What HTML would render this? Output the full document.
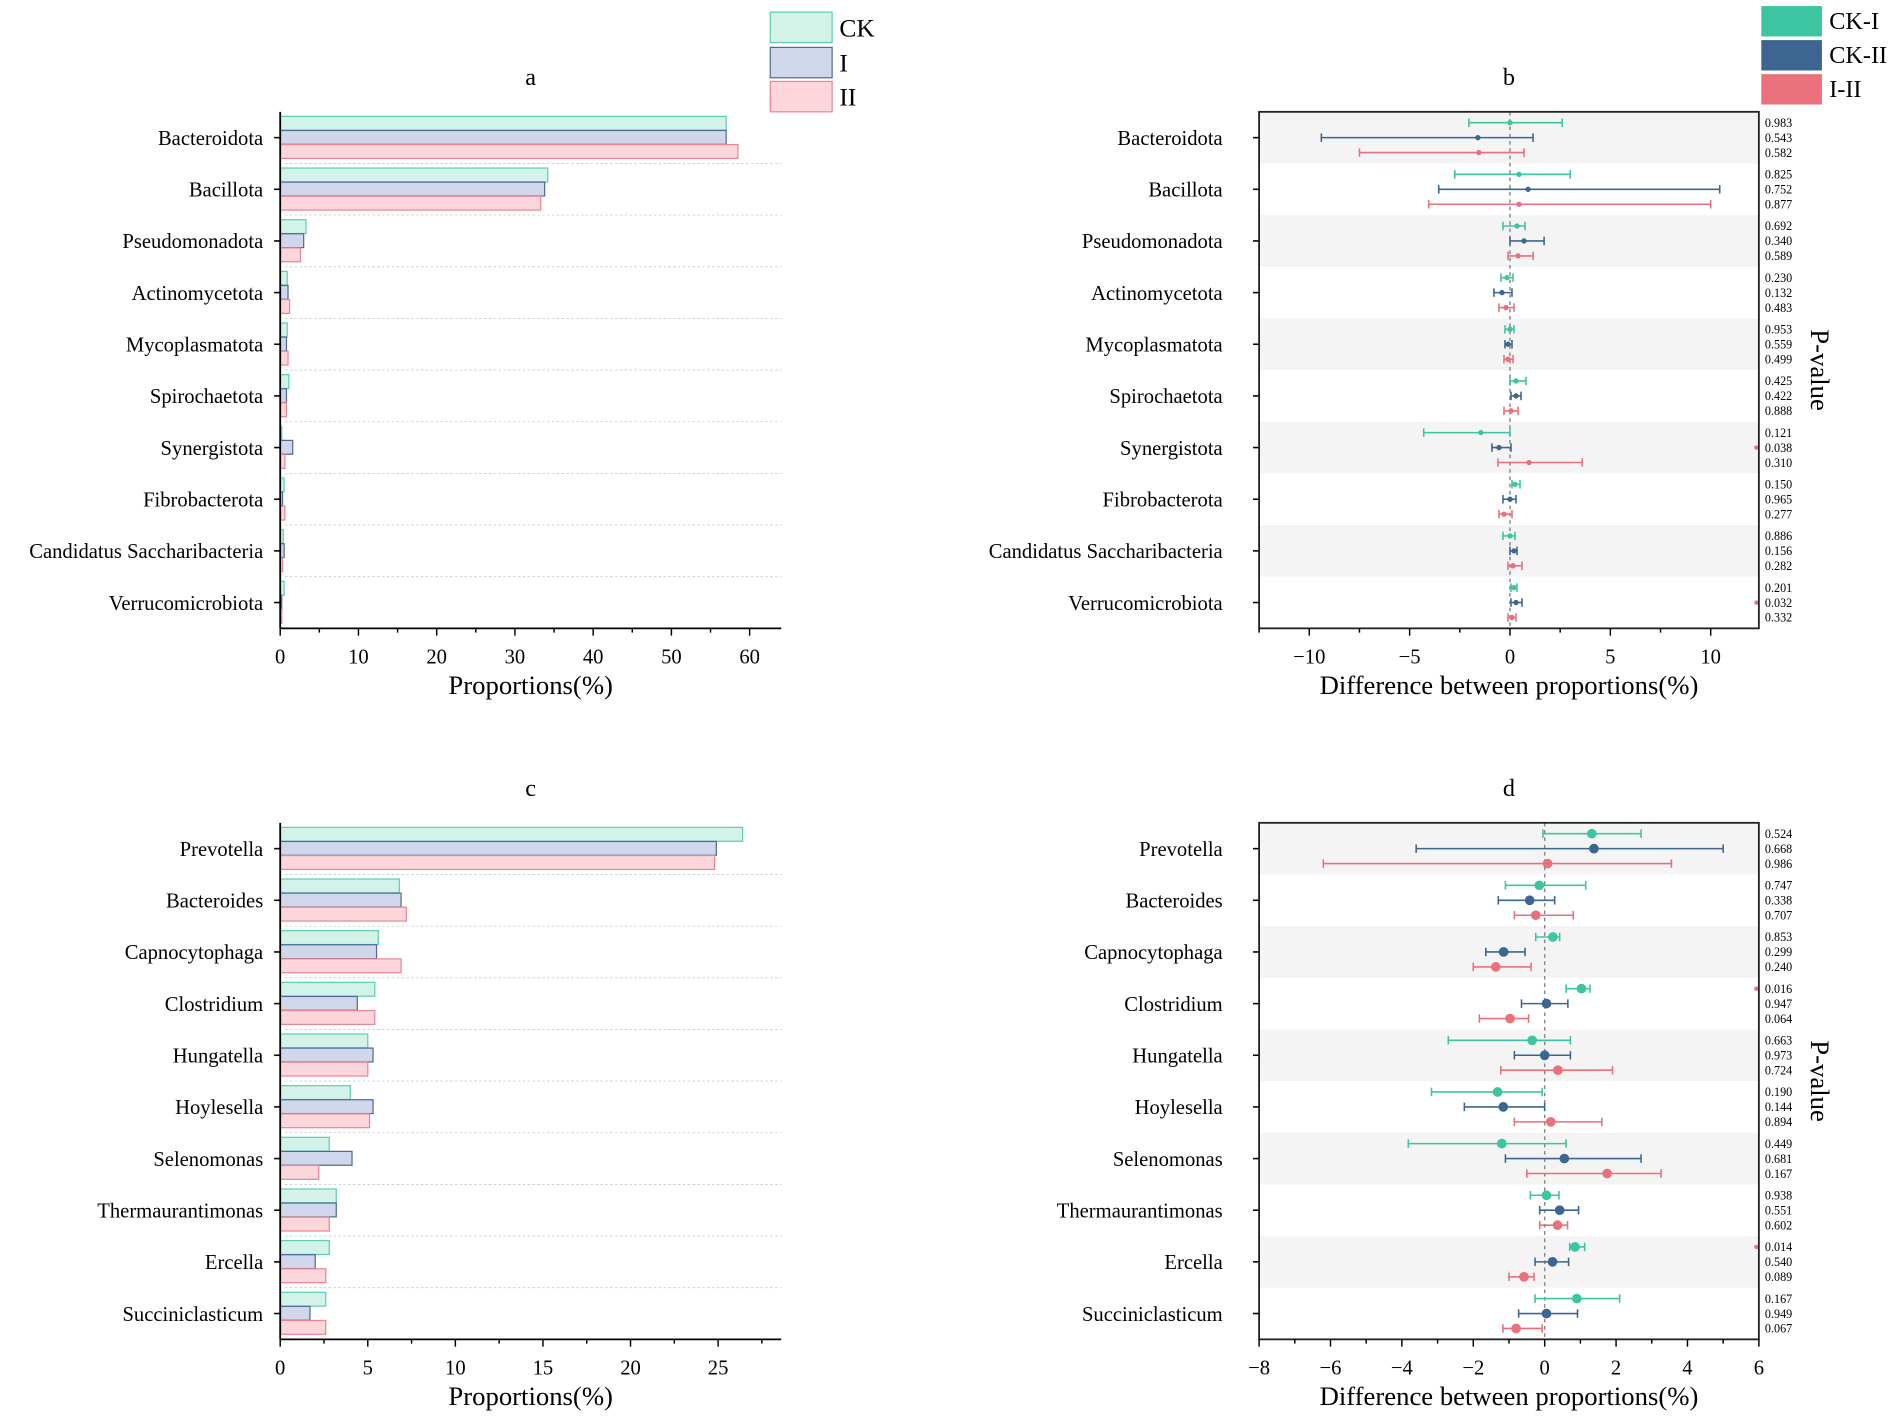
<!DOCTYPE html>
<html><head><meta charset="utf-8"><style>
html,body{margin:0;padding:0;background:#fff;}
svg{display:block;font-family:"Liberation Serif",serif;}
</style></head><body>
<svg id="chart" width="1902" height="1422" viewBox="0 0 1568 1170" preserveAspectRatio="none" xmlns="http://www.w3.org/2000/svg"></svg>
<script>
// ---------- data ----------
const phyla = ["Bacteroidota","Bacillota","Pseudomonadota","Actinomycetota","Mycoplasmatota","Spirochaetota","Synergistota","Fibrobacterota","Candidatus Saccharibacteria","Verrucomicrobiota"];
const phylaCK = [57,34.2,3.3,0.9,0.9,1.1,0.2,0.5,0.4,0.5];
const phylaI  = [57,33.8,3.0,1.0,0.8,0.8,1.6,0.3,0.5,0.2];
const phylaII = [58.5,33.3,2.6,1.2,1.0,0.8,0.6,0.6,0.3,0.2];
const phylaTicks = [0,10,20,30,40,50,60];

const genera = ["Prevotella","Bacteroides","Capnocytophaga","Clostridium","Hungatella","Hoylesella","Selenomonas","Thermaurantimonas","Ercella","Succiniclasticum"];
const genCK = [26.4,6.8,5.6,5.4,5.0,4.0,2.8,3.2,2.8,2.6];
const genI  = [24.9,6.9,5.5,4.4,5.3,5.3,4.1,3.2,2.0,1.7];
const genII = [24.8,7.2,6.9,5.4,5.0,5.1,2.2,2.8,2.6,2.6];
const genTicks = [0,5,10,15,20,25];

// diff panels: [mean, low, high]
const bCKI  = [[0,-2.05,2.6],[0.45,-2.75,3.0],[0.35,-0.35,0.75],[-0.15,-0.45,0.15],[0,-0.25,0.2],[0.3,0,0.8],[-1.45,-4.3,0],[0.25,0.1,0.5],[0,-0.35,0.25],[0.2,0.05,0.35]];
const bCKII = [[-1.6,-9.4,1.15],[0.9,-3.55,10.45],[0.7,0,1.7],[-0.4,-0.8,0.1],[-0.1,-0.25,0.1],[0.3,0.05,0.55],[-0.55,-0.9,0.05],[0,-0.35,0.3],[0.2,0,0.35],[0.3,0.05,0.6]];
const bIII  = [[-1.55,-7.5,0.7],[0.45,-4.05,10.0],[0.4,-0.1,1.15],[-0.2,-0.55,0.2],[-0.1,-0.3,0.15],[0.05,-0.3,0.4],[0.95,-0.6,3.6],[-0.3,-0.55,0.1],[0.15,-0.1,0.6],[0.1,-0.1,0.3]];
const bP = [["0.983","0.543","0.582"],["0.825","0.752","0.877"],["0.692","0.340","0.589"],["0.230","0.132","0.483"],["0.953","0.559","0.499"],["0.425","0.422","0.888"],["0.121","0.038","0.310"],["0.150","0.965","0.277"],["0.886","0.156","0.282"],["0.201","0.032","0.332"]];
const bTicks = [-10,-5,0,5,10];

const dCKI  = [[1.32,-0.05,2.7],[-0.15,-1.1,1.15],[0.23,-0.25,0.42],[1.03,0.6,1.27],[-0.35,-2.7,0.72],[-1.32,-3.17,-0.07],[-1.2,-3.82,0.6],[0.05,-0.4,0.4],[0.85,0.7,1.12],[0.9,-0.27,2.1]];
const dCKII = [[1.38,-3.6,5.0],[-0.42,-1.3,0.28],[-1.15,-1.65,-0.55],[0.05,-0.65,0.65],[0,-0.85,0.72],[-1.16,-2.25,0],[0.55,-1.1,2.7],[0.42,-0.14,0.95],[0.22,-0.27,0.67],[0.05,-0.73,0.92]];
const dIII  = [[0.08,-6.2,3.55],[-0.25,-0.85,0.8],[-1.37,-2.0,-0.38],[-0.97,-1.83,-0.45],[0.37,-1.23,1.9],[0.17,-0.85,1.6],[1.75,-0.5,3.26],[0.36,-0.14,0.64],[-0.58,-1.0,-0.3],[-0.8,-1.17,-0.07]];
const dP = [["0.524","0.668","0.986"],["0.747","0.338","0.707"],["0.853","0.299","0.240"],["0.016","0.947","0.064"],["0.663","0.973","0.724"],["0.190","0.144","0.894"],["0.449","0.681","0.167"],["0.938","0.551","0.602"],["0.014","0.540","0.089"],["0.167","0.949","0.067"]];
const dTicks = [-8,-6,-4,-2,0,2,4,6];

// ---------- helpers ----------
const S = document.getElementById('chart');
const NS = "http://www.w3.org/2000/svg";
function mk(tag, at, parent){const e=document.createElementNS(NS,tag);for(const k in at)e.setAttribute(k,at[k]);(parent||S).appendChild(e);return e;}
function txt(s, at, parent){const e=mk('text',at,parent);e.textContent=s;return e;}
const C = {ckF:"#d3f3e8",ckS:"#5ccfae",iF:"#d0d7ea",iS:"#4b6a99",iiF:"#fdd6db",iiS:"#ea8593",t:"#3dc5a1",b:"#3c6691",r:"#e9717b"};

function rowY(top,i){return top+21.25+i*42.5;}

function barPanel(id, cats, ck, ii, iii, ticks, x0, xEnd, top, bottom, title, spanLast){
  const g=mk('g',{});
  
  
  const xLast = x0 + spanLast;
  const scale=v=>x0+v/ticks[ticks.length-1]*(xLast-x0);
  const t=txt(title,{x:(x0+xEnd)/2,y:top-22,'font-size':20,'text-anchor':'middle'},g);
  
  
  cats.forEach((c,i)=>{
    const y=rowY(top,i);
    if(i>0){const l=mk('line',{x1:x0+4,x2:xEnd,y1:y-21.25,y2:y-21.25,stroke:'#c8c8c8','stroke-width':0.7,'stroke-dasharray':'2,2'},g);
      
      }
    const vals=[ck[i],ii[i],iii[i]];
    const fills=[[C.ckF,C.ckS],[C.iF,C.iS],[C.iiF,C.iiS]];
    const names=['bar-ck','bar-i','bar-ii'];
    vals.forEach((v,k)=>{
      const r=mk('rect',{x:x0,y:y-17.5+k*11.6,width:Math.max(0.5,scale(v)-x0),height:11.4,fill:fills[k][0],stroke:fills[k][1],'stroke-width':1},g);
      
      
    });
    const lb=txt(c,{x:x0-14,y:y+6,'font-size':17,'text-anchor':'end'},g);
    
    
    mk('line',{x1:x0-5,x2:x0,y1:y,y2:y,stroke:'#000','stroke-width':1.3},g);
  });
  mk('line',{x1:x0,x2:x0,y1:top,y2:bottom,stroke:'#000','stroke-width':1.5},g);
  const ax=mk('line',{x1:x0,x2:xEnd,y1:bottom,y2:bottom,stroke:'#000','stroke-width':1.5},g);
  
  
  const step=ticks[1]-ticks[0];
  for(let v=0; scale(v)<=xEnd+0.1; v+=step/2){
    const major=Math.abs(v/step-Math.round(v/step))<1e-6;
    mk('line',{x1:scale(v),x2:scale(v),y1:bottom,y2:bottom+(major?6:3.5),stroke:'#000','stroke-width':1.2},g);
  }
  ticks.forEach(v=>{const tl=txt(String(v),{x:scale(v),y:bottom+29,'font-size':17,'text-anchor':'middle'},g);
    
    });
  const xt=txt('Proportions(%)',{x:(x0+xEnd)/2,y:bottom+54,'font-size':22,'text-anchor':'middle'},g);
  
  
}

function diffPanel(id, cats, s1, s2, s3, pv, ticks, xL, xR, vmin, vmax, top, bottom, title, minorStep, dotR, sig){
  const g=mk('g',{});
  
  
  const sx=v=>xL+(v-vmin)/(vmax-vmin)*(xR-xL);
  const t=txt(title,{x:(xL+xR)/2,y:top-22,'font-size':20,'text-anchor':'middle'},g);
  
  
  cats.forEach((c,i)=>{
    const y=rowY(top,i);
    if(i%2===0){const bd=mk('rect',{x:xL,y:y-21.25,width:xR-xL,height:42.5,fill:'#f4f4f4'},g);
      
      }
  });
  const z=mk('line',{x1:sx(0),x2:sx(0),y1:top,y2:bottom,stroke:'#888','stroke-width':1.2,'stroke-dasharray':'3,3'},g);
  
  
  const series=[[s1,C.t,'errorbar-ck-i'],[s2,C.b,'errorbar-ck-ii'],[s3,C.r,'errorbar-i-ii']];
  cats.forEach((c,i)=>{
    const y=rowY(top,i);
    series.forEach((s,k)=>{
      const d=s[0][i], yy=y-12.3+k*12.3;
      const eg=mk('g',{},g);
      
      
      mk('line',{x1:sx(d[1]),x2:sx(d[2]),y1:yy,y2:yy,stroke:s[1],'stroke-width':1.3},eg);
      mk('line',{x1:sx(d[1]),x2:sx(d[1]),y1:yy-3.5,y2:yy+3.5,stroke:s[1],'stroke-width':1.3},eg);
      mk('line',{x1:sx(d[2]),x2:sx(d[2]),y1:yy-3.5,y2:yy+3.5,stroke:s[1],'stroke-width':1.3},eg);
      mk('circle',{cx:sx(d[0]),cy:yy,r:dotR,fill:s[1]},eg);
      const p=txt(pv[i][k],{x:xR+5,y:yy+3.5,'font-size':10},g);
      
      
    });
    const lb=txt(c,{x:xL-30,y:y+6,'font-size':17,'text-anchor':'end'},g);
    
    
    mk('line',{x1:xL-5,x2:xL,y1:y,y2:y,stroke:'#000','stroke-width':1.3},g);
  });
  sig.forEach(s=>{const m=mk('circle',{cx:xR-2,cy:rowY(top,s[0])-12.3+s[1]*12.3,r:1.8,fill:C.r},g);
    
    });
  const fr=mk('rect',{x:xL,y:top,width:xR-xL,height:bottom-top,fill:'none',stroke:'#222','stroke-width':1.5},g);
  
  
  for(let v=vmin; v<=vmax+1e-6; v+=minorStep){
    const major=ticks.some(tk=>Math.abs(tk-v)<1e-6);
    mk('line',{x1:sx(v),x2:sx(v),y1:bottom,y2:bottom+(major?6:3.5),stroke:'#000','stroke-width':1.2},g);
  }
  ticks.forEach(v=>{const tl=txt(v<0?'\u2212'+(-v):String(v),{x:sx(v),y:bottom+29,'font-size':17,'text-anchor':'middle'},g);
    
    });
  const xt=txt('Difference between proportions(%)',{x:(xL+xR)/2,y:bottom+54,'font-size':22,'text-anchor':'middle'},g);
  
  
  const yt=txt('P-value',{x:0,y:0,'font-size':22,'text-anchor':'middle',transform:`translate(${xR+43},${(top+bottom)/2}) rotate(90)`},g);
  
  
}

barPanel('panel-a',phyla,phylaCK,phylaI,phylaII,phylaTicks,231,644,92,517,'a',387);
barPanel('panel-c',genera,genCK,genI,genII,genTicks,231,644,677,1102,'c',361);
diffPanel('panel-b',phyla,bCKI,bCKII,bIII,bP,bTicks,1038,1450,-12.5,12.4,92,517,'b',2.5,2.2,[[6,1],[9,1]]);
diffPanel('panel-d',genera,dCKI,dCKII,dIII,dP,dTicks,1038,1450,-8,6,677,1102,'d',1,4,[[3,0],[8,0]]);

// legends
const lg1=mk('g',{});


[["CK",C.ckF,C.ckS,10],["I",C.iF,C.iS,39],["II",C.iiF,C.iiS,67]].forEach(d=>{
  const e=mk('g',{},lg1);
  
  
  mk('rect',{x:635,y:d[3],width:51,height:25,fill:d[1],stroke:d[2],'stroke-width':1},e);
  txt(d[0],{x:692,y:d[3]+20,'font-size':21},e);
});
const lg2=mk('g',{});


[["CK-I",C.t,5],["CK-II",C.b,33],["I-II",C.r,61]].forEach(d=>{
  const e=mk('g',{},lg2);
  
  
  mk('rect',{x:1452,y:d[2],width:50,height:25,fill:d[1]},e);
  txt(d[0],{x:1508,y:d[2]+19,'font-size':20},e);
});
</script>
</body></html>
